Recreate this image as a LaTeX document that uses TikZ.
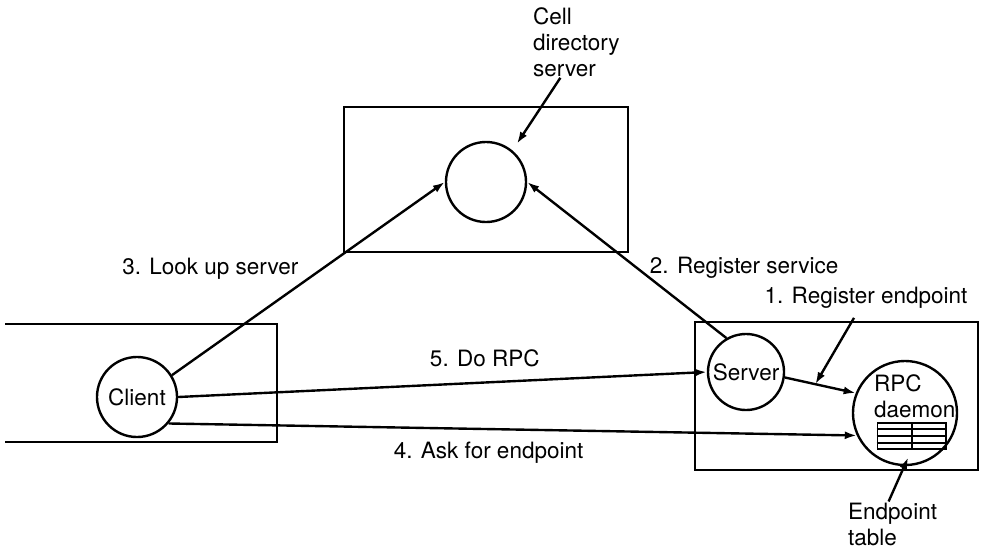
\documentclass[tikz,border=0pt]{standalone}
\usepackage{fontspec}
\setmainfont{TeX Gyre Heros}
\usetikzlibrary{positioning, arrows.meta, calc}

\begin{document}
\begin{tikzpicture}[
    x=0.025cm, y=-0.025cm,
    >={Latex[length=3mm, width=2mm]},
    line width=1.7pt,
    font=\fontsize{16}{18.5}\selectfont,
    proc/.style   ={draw, circle, inner sep=0pt},
    hostbox/.style={draw, rectangle},
    lbl/.style    ={inner sep=0pt, align=center},
    pointer/.style={->, shorten >=2mm},
]
\useasboundingbox (0,0) rectangle (984,548);

% Hosts
\node[hostbox, minimum width=7.1cm, minimum height=3.625cm]  (cellbox) at (486,179.5) {};
\node[hostbox, minimum width=7.075cm, minimum height=3.7cm]  (srvbox)  at (836.5,396) {};
\draw (5,324) -| (277,442) -- (5,442);

% Processes
\node[proc, minimum size=2cm]   (cds) at (486,182) {};
\node[proc, minimum size=2cm]   (cli) at (137,397) {Client};
\node[proc, minimum size=1.9cm] (srv) at (746,372) {Server};
\node[proc, minimum size=2.6cm] (dmn) at (905,413) {};
\node[lbl, align=left, anchor=west] (dmntxt) at (873,396) {RPC\\daemon};
\node[draw, rectangle, inner sep=0pt, line width=1.4pt, minimum width=1.7cm, minimum height=0.65cm] (tbl) at (911.5,436) {};
\draw[line width=1.4pt] (tbl.north) -- (tbl.south);
\foreach \f in {0.25,0.5,0.75}
    \draw[line width=1.4pt] ($(tbl.north west)!\f!(tbl.south west)$) -- ($(tbl.north east)!\f!(tbl.south east)$);

% Messages
\draw[->] (cli.32)  -- node[lbl, pos=0.49, anchor=south east, xshift=-1.5mm] {3. Look up server} (cds.west);
\draw[->] (srv.120) -- node[lbl, pos=0.45, anchor=west, xshift=3mm] {2. Register service} (cds.east);
\draw[->] (cli.east) -- node[lbl, pos=0.58, above=3.5mm] {5. Do RPC} (srv.west);
\draw[->] (cli.-40) -- node[lbl, pos=0.465, below=3mm] {4. Ask for endpoint} (dmn.205);
\draw[->] (srv.-8)  -- (dmn.158);
\coordinate (regtip) at ($(srv.-8)!0.43!(dmn.158)$);

% Annotations
\node[lbl, align=left, anchor=west] (cdslbl) at (532,42) {Cell\\directory\\server};
\node[lbl] (reglbl) at (866,298) {1. Register endpoint};
\node[lbl, align=left, anchor=west] (eplbl) at (847,524) {Endpoint\\table};
\draw[pointer] ([xshift=-4mm]cdslbl.south) -- (cds.50);
\draw[->] ([xshift=-3mm, yshift=-2mm]reglbl.south) -- (regtip);
\draw[pointer] ([xshift=-1mm]eplbl.north) -- (tbl.south);

\end{tikzpicture}
\end{document}
